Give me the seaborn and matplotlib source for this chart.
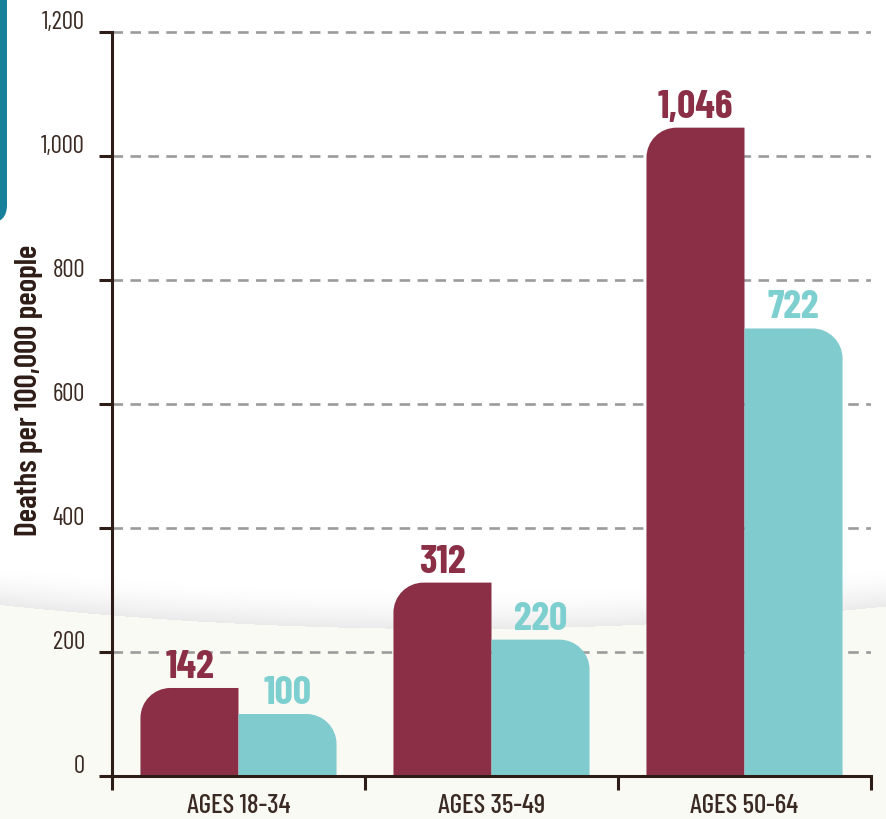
import numpy as np
import pandas as pd
import seaborn as sns
import matplotlib.pyplot as plt
from matplotlib.path import Path
from matplotlib.patches import PathPatch, FancyBboxPatch
from matplotlib.ticker import FuncFormatter
import matplotlib.transforms as mtransforms

# data
ages = ["AGES 18-34", "AGES 35-49", "AGES 50-64"]
group_a = [142, 312, 1046]     # maroon bars
group_b = [100, 220, 722]      # teal bars
yticks = [0, 200, 400, 600, 800, 1000, 1200]

MAROON = "#8b2f47"
TEAL = "#80cbcd"
TEAL_TXT = "#7ecfd0"
BROWN = "#2e1c16"
TICK_TXT = "#3a2a23"

df = pd.DataFrame({
    "age": ages * 2,
    "deaths": group_a + group_b,
    "group": ["A"] * len(ages) + ["B"] * len(ages),
})

sns.set_theme(style="white")
plt.rcParams["font.family"] = ["Barlow Condensed", "DejaVu Sans"]

W, H = 886, 820
fig = plt.figure(figsize=(W / 100, H / 100), dpi=100)

# background: white top, beige bottom with a soft curved shadow
bg = fig.add_axes([0, 0, 1, 1], zorder=-5)
bg.set_xlim(0, W)
bg.set_ylim(H, 0)
bg.axis("off")
xx, yy = np.meshgrid(np.arange(W) + 0.5, np.arange(H) + 0.5)
curve = 630 - 24 * ((xx - 450) / 450) ** 2
img = np.ones((H, W, 3))
img[yy > curve] = [0.984, 0.984, 0.962]
d = curve - yy
band = (d > 0) & (d < 38)
shade = 0.08 * (1 - d[band] / 38) ** 1.6
img[band] = 1 - shade[:, None] * np.ones(3)
bg.imshow(img, extent=(0, W, H, 0), aspect="auto", interpolation="bilinear")
bg.add_patch(FancyBboxPatch((-60, -60), 67, 284, boxstyle="round,pad=0,rounding_size=18",
                            facecolor="#17809b", edgecolor="none"))

# main axes
ax = fig.add_axes([112 / W, 1 - 777 / H, (871 - 112) / W, 750 / H])
ax.set_facecolor("none")

sns.barplot(data=df, x="age", y="deaths", hue="group", palette=[MAROON, TEAL],
            width=0.775, gap=0, dodge=True, legend=False, ax=ax,
            edgecolor="none", linewidth=0, saturation=1, errorbar=None)

ax.set_xlim(-0.5, len(ages) - 0.5)
ax.set_ylim(0, 1210)

# dashed grid
ax.set_axisbelow(True)
ax.yaxis.grid(True, color="#9b9b9b", linestyle=(0, (4, 2.8)), linewidth=1.9)
ax.xaxis.grid(False)

# spines
for s in ["top", "right"]:
    ax.spines[s].set_visible(False)
for s in ["left", "bottom"]:
    ax.spines[s].set_color(BROWN)
    ax.spines[s].set_linewidth(2.2)
ax.spines["left"].set_bounds(0, 1200)

# ticks
ax.set_yticks(yticks)
ax.yaxis.set_major_formatter(FuncFormatter(lambda v, p: f"{int(v):,}"))
ax.tick_params(axis="y", length=9.5, width=2.2, color=BROWN, pad=10,
               labelsize=18, labelcolor=TICK_TXT, left=True)
offset = mtransforms.ScaledTranslation(0, 3 / 72, fig.dpi_scale_trans)
for lab in ax.get_yticklabels():
    lab.set_verticalalignment("baseline")
    lab.set_fontweight(400)
    lab.set_transform(lab.get_transform() + offset)

ax.set_xticks(range(len(ages)))
ax.set_xticklabels(ages)
ax.set_xticks(np.arange(-0.5, len(ages)), minor=True)
ax.tick_params(axis="x", which="major", length=0, pad=12, labelsize=19.5, labelcolor=TICK_TXT)
ax.tick_params(axis="x", which="minor", length=10, width=2.2, color=BROWN, bottom=True)
for lab in ax.get_xticklabels():
    lab.set_fontweight(500)

ax.set_xlabel("")
ax.set_ylabel("Deaths per 100,000 people", fontsize=22.5, fontweight=600, color=BROWN,
              va="center")
ax.yaxis.set_label_coords(-0.109, 0.516)

# rounded corners on bars (top-left for maroon, top-right for teal)
fig.canvas.draw()
p0 = ax.transData.transform((0, 0))
p1 = ax.transData.transform((1, 1))
rx = 30 / (p1[0] - p0[0])
ry = 30 / (p1[1] - p0[1])
k = 0.5523
bars = list(ax.patches)
for i, rect in enumerate(bars):
    x0, w, h = rect.get_x(), rect.get_width(), rect.get_height()
    x1 = x0 + w
    r_x, r_y = min(rx, w / 2), min(ry, h / 2)
    if i < len(ages):
        verts = [(x0, 0), (x1, 0), (x1, h), (x0 + r_x, h),
                 (x0 + r_x * (1 - k), h), (x0, h - r_y * (1 - k)), (x0, h - r_y),
                 (x0, 0), (x0, 0)]
        codes = [Path.MOVETO, Path.LINETO, Path.LINETO, Path.LINETO,
                 Path.CURVE4, Path.CURVE4, Path.CURVE4, Path.LINETO, Path.CLOSEPOLY]
    else:
        verts = [(x0, 0), (x1, 0), (x1, h - r_y),
                 (x1, h - r_y * (1 - k)), (x1 - r_x * (1 - k), h), (x1 - r_x, h),
                 (x0, h), (x0, 0), (x0, 0)]
        codes = [Path.MOVETO, Path.LINETO, Path.LINETO,
                 Path.CURVE4, Path.CURVE4, Path.CURVE4,
                 Path.LINETO, Path.LINETO, Path.CLOSEPOLY]
    ax.add_patch(PathPatch(Path(verts, codes), facecolor=rect.get_facecolor(),
                           edgecolor="none", zorder=rect.get_zorder()))
    rect.set_visible(False)

    color = MAROON if i < len(ages) else TEAL_TXT
    ax.annotate(f"{int(h):,}", (x0 + w / 2, h), xytext=(0, 8), textcoords="offset points",
                ha="center", va="baseline", fontsize=29, fontweight=700, color=color)

fig.savefig("out.png", dpi=100)
